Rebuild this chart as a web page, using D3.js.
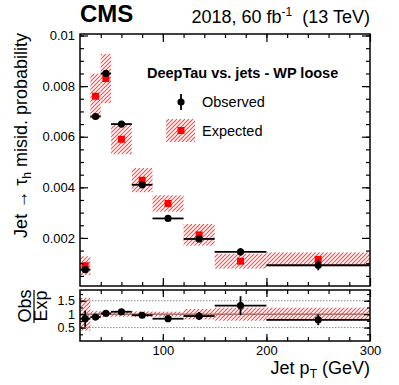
<!DOCTYPE html>
<html>
<head>
<meta charset="utf-8">
<script src="https://cdn.jsdelivr.net/npm/d3@7"></script>
<style>
  body { margin: 0; background: #fff; }
  svg { font-family: "Liberation Sans", Arial, Helvetica, sans-serif; }
</style>
</head>
<body>
<svg id="chart" width="399" height="385"></svg>
<script>
// bins in jet pT (GeV)
const binLo = [20, 30, 40, 50, 70, 90, 120, 150, 200];
const binHi = [30, 40, 50, 70, 90, 120, 150, 200, 300];
// observed misid. probability and its error
const obsVal = [0.00075, 0.0068, 0.0085, 0.0065, 0.0041, 0.00277, 0.00196, 0.00145, 0.00092];
const obsErr = [0.00005, 0.00005, 0.00005, 0.00005, 0.00005, 0.00005, 0.0001, 0.00015, 0.0002];
// expected misid. probability and its uncertainty band
const expVal = [0.0009, 0.0076, 0.0083, 0.0059, 0.00428, 0.00336, 0.00212, 0.00108, 0.00115];
const expErr = [0.00038, 0.0009, 0.00098, 0.0006, 0.00048, 0.00033, 0.00043, 0.0003, 0.00028];
// ratio panel
const ratioVal = [0.83, 0.89, 1.03, 1.09, 0.96, 0.83, 0.93, 1.32, 0.79];
const ratioErr = [0.3, 0.06, 0.05, 0.05, 0.05, 0.05, 0.15, 0.35, 0.2];
const ratioBand = [0.62, 0.12, 0.12, 0.1, 0.11, 0.1, 0.2, 0.25, 0.25];
// ticks
const yMajor = [0.002, 0.004, 0.006, 0.008, 0.01];
const yLabels = ["0.002", "0.004", "0.006", "0.008", "0.01"];
const yMinor = d3.range(1, 21).map((i) => i * 0.0005);
const xMajor = [100, 200, 300];
const xMinor = d3.range(2, 15).map((i) => i * 20);
const rMajor = [0.5, 1, 1.5];
const rLabels = ["0.5", "1", "1.5"];
const rMinor = [0.25, 0.5, 0.75, 1, 1.25, 1.5, 1.75];

const svg = d3.select("#chart");
const left = 80, right = 370;
const mainTop = 34, mainBot = 286;
const ratTop = 290, ratBot = 341;

const x = d3.scaleLinear().domain([20, 300]).range([left, right]);
const y = d3.scaleLinear().domain([0.0001, 0.01006]).range([mainBot, mainTop]);
const yr = d3.scaleLinear().domain([0, 1.9]).range([ratBot, ratTop]);

const defs = svg.append("defs");
defs.append("clipPath").attr("id", "clipMain").append("rect")
  .attr("x", left).attr("y", mainTop).attr("width", right - left).attr("height", mainBot - mainTop);
defs.append("clipPath").attr("id", "clipRat").append("rect")
  .attr("x", left).attr("y", ratTop).attr("width", right - left).attr("height", ratBot - ratTop);

let hatchId = 0;
// red "////" hatching inside a rectangle
function hatch(parent, x0, y0, w, h) {
  const id = "h" + hatchId++;
  defs.append("clipPath").attr("id", id).append("rect")
    .attr("x", x0).attr("y", y0).attr("width", w).attr("height", h);
  const g = parent.append("g").attr("clip-path", `url(#${id})`);
  const step = 4;
  const c0 = Math.floor((x0 + y0) / step) * step;
  const cs = d3.range(c0, x0 + w + y0 + h + step, step);
  g.selectAll("line").data(cs).join("line")
    .attr("x1", (c) => c - (y0 + h)).attr("y1", y0 + h)
    .attr("x2", (c) => c - y0).attr("y2", y0)
    .style("stroke", "rgb(255,70,70)")
    .style("stroke-width", "1.1px");
}

const bins = binLo.map((lo, i) => ({ lo: lo, hi: binHi[i], obs: obsVal[i], oe: obsErr[i],
  exp: expVal[i], ee: expErr[i], r: ratioVal[i], re: ratioErr[i], rb: ratioBand[i] }));

// axis helper: ticks pointing inward on every side
function ticks(g, axis, scale, vals, size, labels) {
  const a = axis(scale).tickValues(vals).tickSize(-size).tickPadding(5);
  if (!labels) a.tickFormat("");
  else a.tickFormat((d, i) => labels[i]);
  const s = g.call(a);
  s.select(".domain").remove();
  s.selectAll("line").attr("stroke", "#000").attr("stroke-width", 1.2);
  s.selectAll("text").attr("fill", "#000").attr("font-size", "13px")
    .attr("font-family", "Liberation Sans, Arial, sans-serif");
  return s;
}

// ---------- main panel ----------
const gMain = svg.append("g");
const pMain = gMain.append("g").attr("clip-path", "url(#clipMain)");

bins.forEach((d) => {
  hatch(pMain, x(d.lo), y(d.exp + d.ee), x(d.hi) - x(d.lo), y(d.exp - d.ee) - y(d.exp + d.ee));
});

pMain.selectAll(".expm").data(bins).join("rect")
  .attr("x", (d) => x((d.lo + d.hi) / 2) - 3.5)
  .attr("y", (d) => y(d.exp) - 3.5)
  .attr("width", 7).attr("height", 7)
  .attr("fill", "#ff0000");

pMain.selectAll(".hbar").data(bins).join("line")
  .attr("x1", (d) => x(d.lo)).attr("x2", (d) => x(d.hi))
  .attr("y1", (d) => y(d.obs)).attr("y2", (d) => y(d.obs))
  .attr("stroke", "#000").attr("stroke-width", 1.8);
pMain.selectAll(".vbar").data(bins).join("line")
  .attr("x1", (d) => x((d.lo + d.hi) / 2)).attr("x2", (d) => x((d.lo + d.hi) / 2))
  .attr("y1", (d) => y(d.obs - d.oe)).attr("y2", (d) => y(d.obs + d.oe))
  .attr("stroke", "#000").attr("stroke-width", 1.8);
pMain.selectAll(".obsm").data(bins).join("circle")
  .attr("cx", (d) => x((d.lo + d.hi) / 2))
  .attr("cy", (d) => y(d.obs))
  .attr("r", 3.6).attr("fill", "#000");

ticks(gMain.append("g").attr("transform", `translate(${left},0)`), d3.axisLeft, y, yMajor, 8, yLabels);
ticks(gMain.append("g").attr("transform", `translate(${left},0)`), d3.axisLeft, y, yMinor, 4, null);
ticks(gMain.append("g").attr("transform", `translate(${right},0)`), d3.axisRight, y, yMajor, 8, null);
ticks(gMain.append("g").attr("transform", `translate(${right},0)`), d3.axisRight, y, yMinor, 4, null);
ticks(gMain.append("g").attr("transform", `translate(0,${mainBot})`), d3.axisBottom, x, xMajor, 8, null);
ticks(gMain.append("g").attr("transform", `translate(0,${mainBot})`), d3.axisBottom, x, xMinor, 4, null);
ticks(gMain.append("g").attr("transform", `translate(0,${mainTop})`), d3.axisTop, x, xMajor, 8, null);
ticks(gMain.append("g").attr("transform", `translate(0,${mainTop})`), d3.axisTop, x, xMinor, 4, null);

gMain.append("rect")
  .attr("x", left).attr("y", mainTop).attr("width", right - left).attr("height", mainBot - mainTop)
  .attr("fill", "none").attr("stroke", "#000").attr("stroke-width", 1.5);

// ---------- ratio panel ----------
const gRat = svg.append("g");
const pRat = gRat.append("g").attr("clip-path", "url(#clipRat)");

pRat.selectAll(".grid").data(rMajor).join("line")
  .attr("x1", left).attr("x2", right)
  .attr("y1", (d) => yr(d)).attr("y2", (d) => yr(d))
  .attr("stroke", (d) => (d === 1 ? "#444" : "#888"))
  .attr("stroke-width", 1)
  .attr("stroke-dasharray", (d) => (d === 1 ? null : "1.5,1.5"));

bins.forEach((d) => {
  hatch(pRat, x(d.lo), yr(1 + d.rb), x(d.hi) - x(d.lo), yr(1 - d.rb) - yr(1 + d.rb));
});

pRat.selectAll(".rh").data(bins).join("line")
  .attr("x1", (d) => x(d.lo)).attr("x2", (d) => x(d.hi))
  .attr("y1", (d) => yr(d.r)).attr("y2", (d) => yr(d.r))
  .attr("stroke", "#000").attr("stroke-width", 1.8);
pRat.selectAll(".rv").data(bins).join("line")
  .attr("x1", (d) => x((d.lo + d.hi) / 2)).attr("x2", (d) => x((d.lo + d.hi) / 2))
  .attr("y1", (d) => yr(d.r - d.re)).attr("y2", (d) => yr(d.r + d.re))
  .attr("stroke", "#000").attr("stroke-width", 1.8);
pRat.selectAll(".rm").data(bins).join("circle")
  .attr("cx", (d) => x((d.lo + d.hi) / 2))
  .attr("cy", (d) => yr(d.r))
  .attr("r", 3.6).attr("fill", "#000");

ticks(gRat.append("g").attr("transform", `translate(${left},0)`), d3.axisLeft, yr, rMajor, 6, rLabels)
  .selectAll("text").attr("font-size", "12.5px");
ticks(gRat.append("g").attr("transform", `translate(${left},0)`), d3.axisLeft, yr, rMinor, 3, null);
ticks(gRat.append("g").attr("transform", `translate(${right},0)`), d3.axisRight, yr, rMajor, 6, null);
ticks(gRat.append("g").attr("transform", `translate(${right},0)`), d3.axisRight, yr, rMinor, 3, null);
ticks(gRat.append("g").attr("transform", `translate(0,${ratBot})`), d3.axisBottom, x, xMajor, 7, ["100", "200", "300"])
  .selectAll("text").attr("y", 5).attr("dy", "0.71em");
ticks(gRat.append("g").attr("transform", `translate(0,${ratBot})`), d3.axisBottom, x, xMinor, 4, null);
ticks(gRat.append("g").attr("transform", `translate(0,${ratTop})`), d3.axisTop, x, xMajor, 7, null);
ticks(gRat.append("g").attr("transform", `translate(0,${ratTop})`), d3.axisTop, x, xMinor, 4, null);

gRat.append("rect")
  .attr("x", left).attr("y", ratTop).attr("width", right - left).attr("height", ratBot - ratTop)
  .attr("fill", "none").attr("stroke", "#000").attr("stroke-width", 1.5);

// ---------- titles ----------
svg.append("text")
  .attr("x", 80).attr("y", 22)
  .attr("font-size", "24px").attr("font-weight", "bold")
  .text("CMS");

const lumi = svg.append("text")
  .attr("x", 370).attr("y", 23)
  .attr("text-anchor", "end")
  .attr("font-size", "18px");
lumi.append("tspan").text("2018, 60 fb");
lumi.append("tspan").attr("font-size", "12px").attr("dy", -7).text("-1");
lumi.append("tspan").attr("dy", 7).text("\u00a0 (13 TeV)");

const yTitle = svg.append("text")
  .attr("transform", "translate(27,33) rotate(-90)")
  .attr("text-anchor", "end")
  .attr("font-size", "18px");
yTitle.append("tspan").text("Jet \u2192 \u03c4");
yTitle.append("tspan").attr("font-size", "12px").attr("dy", 4).text("h");
yTitle.append("tspan").attr("dy", -4).text(" misid. probability");

const xTitle = svg.append("text")
  .attr("x", 370).attr("y", 374)
  .attr("text-anchor", "end")
  .attr("font-size", "18px");
xTitle.append("tspan").text("Jet p");
xTitle.append("tspan").attr("font-size", "12px").attr("dy", 4).text("T");
xTitle.append("tspan").attr("dy", -4).text(" (GeV)");

// ratio y title: Obs over Exp
svg.append("text")
  .attr("transform", "translate(31,306) rotate(-90)")
  .attr("text-anchor", "middle").attr("font-size", "18px").text("Obs");
svg.append("text")
  .attr("transform", "translate(47,306) rotate(-90)")
  .attr("text-anchor", "middle").attr("font-size", "18px").text("Exp");
svg.append("line")
  .attr("x1", 34).attr("x2", 34).attr("y1", 290).attr("y2", 323)
  .attr("stroke", "#000").attr("stroke-width", 1.2);

// ---------- legend ----------
svg.append("text")
  .attr("x", 147).attr("y", 78)
  .attr("font-size", "14.5px").attr("font-weight", "bold")
  .text("DeepTau vs. jets - WP loose");

svg.append("line")
  .attr("x1", 181).attr("x2", 181).attr("y1", 94).attr("y2", 110)
  .attr("stroke", "#000").attr("stroke-width", 1.8);
svg.append("circle").attr("cx", 181).attr("cy", 102).attr("r", 3.6).attr("fill", "#000");
svg.append("text").attr("x", 202).attr("y", 107).attr("font-size", "14.5px").text("Observed");

hatch(svg, 166, 119, 29, 23);
svg.append("rect").attr("x", 177.5).attr("y", 127).attr("width", 7).attr("height", 7)
  .attr("fill", "#ff0000");
svg.append("text").attr("x", 202).attr("y", 136).attr("font-size", "14.5px").text("Expected");
</script>
</body>
</html>
